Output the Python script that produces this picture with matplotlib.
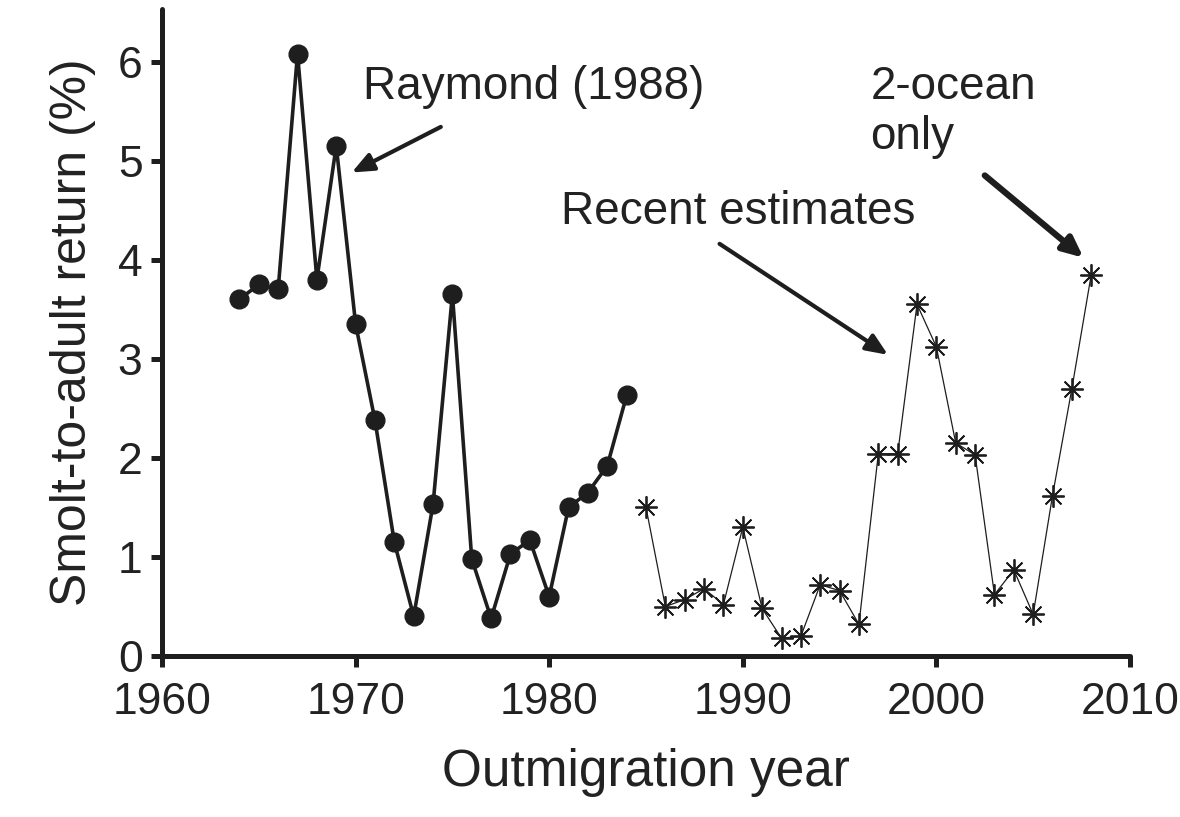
import matplotlib.pyplot as plt

plt.rcParams['font.family'] = ['Liberation Sans', 'DejaVu Sans']

# ---- data ----
raymond_years = list(range(1964, 1985))
raymond_sar = [3.6, 3.75, 3.7, 6.08, 3.8, 5.15, 3.35, 2.38, 1.15, 0.4, 1.53,
               3.65, 0.98, 0.38, 1.03, 1.17, 0.6, 1.5, 1.65, 1.92, 2.63]

recent_years = list(range(1985, 2009))
recent_sar = [1.5, 0.5, 0.57, 0.68, 0.52, 1.3, 0.48, 0.18, 0.2, 0.72, 0.66,
              0.32, 2.04, 2.04, 3.55, 3.12, 2.15, 2.03, 0.62, 0.87, 0.42,
              1.62, 2.7, 3.85]

x_ticks = [1960, 1970, 1980, 1990, 2000, 2010]
y_ticks = [0, 1, 2, 3, 4, 5, 6]

INK = '#1e1e1e'
TXT = '#222222'

fig = plt.figure(figsize=(11.8, 8.17), dpi=100)
ax = fig.add_axes([0.1373, 0.197, 0.8203, 0.792])

ax.plot(raymond_years, raymond_sar, color=INK, lw=2.6, marker='o',
        markersize=13.5, markerfacecolor=INK, markeredgecolor=INK, zorder=3)
ax.plot(recent_years, recent_sar, color=INK, lw=0.9, marker=(8, 2, 0),
        markersize=16, markeredgewidth=1.3, markeredgecolor=INK, zorder=3)

ax.set_xlim(1960, 2010)
ax.set_ylim(0, 6.53)
ax.set_xticks(x_ticks)
ax.set_yticks(y_ticks)

for side in ['top', 'right']:
    ax.spines[side].set_visible(False)
for side in ['left', 'bottom']:
    ax.spines[side].set_linewidth(3.6)
    ax.spines[side].set_color(INK)
    ax.spines[side].set_capstyle('round')

ax.tick_params(axis='both', direction='out', length=8, width=3.6,
               color=INK, labelsize=32, labelcolor=TXT)
ax.tick_params(axis='x', pad=11)
ax.tick_params(axis='y', pad=6)

ax.set_xlabel('Outmigration year', fontsize=37, color=TXT, labelpad=18)
ax.set_ylabel('Smolt-to-adult return (%)', fontsize=36, color=TXT, labelpad=16)

# ---- annotations ----
ax.text(1970.4, 5.74, 'Raymond (1988)', fontsize=33, color=TXT, va='center')
ax.annotate('', xy=(1969.8, 4.88), xytext=(1974.4, 5.34),
            arrowprops=dict(arrowstyle='-|>,head_length=1.3,head_width=0.55',
                            lw=3, color=INK, shrinkA=0, shrinkB=0))

ax.text(1980.6, 4.48, 'Recent estimates', fontsize=33, color=TXT, va='center')
ax.annotate('', xy=(1997.5, 3.04), xytext=(1988.8, 4.16),
            arrowprops=dict(arrowstyle='-|>,head_length=1.3,head_width=0.55',
                            lw=3, color=INK, shrinkA=0, shrinkB=0))

ax.text(1996.6, 5.49, '2-ocean\nonly', fontsize=33, color=TXT, va='center',
        linespacing=1.15)
ax.annotate('', xy=(2007.6, 4.02), xytext=(2002.5, 4.85),
            arrowprops=dict(arrowstyle='-|>,head_length=1.2,head_width=0.55',
                            lw=4.5, color=INK, shrinkA=0, shrinkB=0))

plt.savefig('out.png', dpi=100)
